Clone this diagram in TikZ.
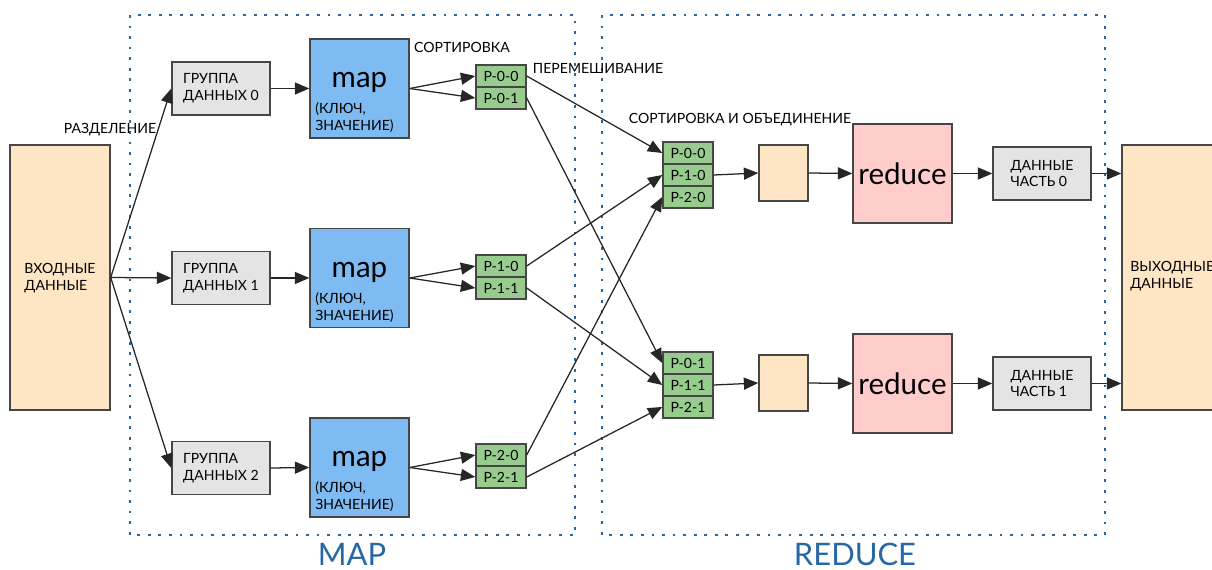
\documentclass[tikz,border=0pt]{standalone}
\usepackage{fontspec}
\setmainfont{Lato}
\usetikzlibrary{arrows.meta}
\definecolor{frameblue}{RGB}{38,104,165}
\definecolor{inorange}{RGB}{254,230,196}
\definecolor{grpgray}{RGB}{228,228,228}
\definecolor{mapblue}{RGB}{125,187,242}
\definecolor{partgreen}{RGB}{152,204,142}
\definecolor{redpink}{RGB}{255,204,204}
\definecolor{edgegray}{RGB}{70,70,70}
\tikzset{
  box/.style={draw=edgegray,line width=1pt,inner sep=0pt},
  grpbox/.style={box,fill=grpgray,minimum width=24.5mm,minimum height=13.25mm,align=left,font=\fontsize{10}{12}\selectfont},
  mapbox/.style={box,fill=mapblue,minimum width=24.75mm,minimum height=24.75mm},
  redbox/.style={box,fill=redpink,minimum width=24.75mm,minimum height=24.75mm},
  partbox/.style={box,fill=partgreen,minimum width=12.5mm,minimum height=5.5mm,font=\fontsize{10}{12}\selectfont},
  bufbox/.style={box,fill=inorange,minimum width=12.25mm,minimum height=14mm},
  bigbox/.style={box,fill=inorange,minimum width=25mm,minimum height=66.25mm},
  lbl/.style={font=\fontsize{10}{12}\selectfont,inner sep=0pt},
  fnlbl/.style={font=\fontsize{21}{23}\selectfont,inner sep=0pt},
  stage/.style={font=\fontsize{22}{24}\selectfont,text=frameblue,inner sep=0pt},
  frame/.style={draw=frameblue,line width=1.5pt,dash pattern=on 2pt off 5.5pt},
  flow/.style={-{Triangle[length=3.6mm,width=3mm]},line width=0.9pt,draw=black!85}
}

\begin{document}
\begin{tikzpicture}[x=0.025cm,y=-0.025cm]
\useasboundingbox (0,0) rectangle (1212,570);
\clip (0,0) rectangle (1212,570);
%
\draw[frame] (130,15) rectangle (575,535);
\draw[frame] (602,15) rectangle (1105,535);
\node[stage] (mapstage) at (352,554) {MAP};
\node[stage] (redstage) at (855,554) {REDUCE};
%
\node[bigbox] (input) at (60,277.5) {};
\node[lbl,align=left] (inputtxt) at (60,278) {ВХОДНЫЕ\\ДАННЫЕ};
%
\node[grpbox] (g0) at (221,88.5) {ГРУППА\\ДАННЫХ 0};
\node[grpbox] (g1) at (221,278) {ГРУППА\\ДАННЫХ 1};
\node[grpbox] (g2) at (221,468) {ГРУППА\\ДАННЫХ 2};
%
\node[mapbox] (m0) at (359.5,88.5) {};
\node[mapbox] (m1) at (359.5,278) {};
\node[mapbox] (m2) at (359.5,467.5) {};
\node[fnlbl] (m0t) at (359.5,82) {map};
\node[fnlbl] (m1t) at (359.5,272) {map};
\node[fnlbl] (m2t) at (359.5,461) {map};
\node[lbl,align=left,anchor=south west] (m0k) at (315,133) {(КЛЮЧ,\\ЗНАЧЕНИЕ)};
\node[lbl,align=left,anchor=south west] (m1k) at (315,323) {(КЛЮЧ,\\ЗНАЧЕНИЕ)};
\node[lbl,align=left,anchor=south west] (m2k) at (315,512) {(КЛЮЧ,\\ЗНАЧЕНИЕ)};
%
\node[partbox] (p00) at (501,76) {P-0-0};
\node[partbox] (p01) at (501,98) {P-0-1};
\node[partbox] (p10) at (501,266) {P-1-0};
\node[partbox] (p11) at (501,288) {P-1-1};
\node[partbox] (p20) at (501,455) {P-2-0};
\node[partbox] (p21) at (501,477) {P-2-1};
%
\node[partbox] (r00) at (688,153) {P-0-0};
\node[partbox] (r10) at (688,175) {P-1-0};
\node[partbox] (r20) at (688,197) {P-2-0};
\node[partbox] (r01) at (688,363) {P-0-1};
\node[partbox] (r11) at (688,385) {P-1-1};
\node[partbox] (r21) at (688,407) {P-2-1};
%
\node[bufbox] (b0) at (783.5,173) {};
\node[bufbox] (b1) at (783.5,383) {};
\node[redbox] (red0) at (902.5,173.5) {};
\node[redbox] (red1) at (902.5,383.5) {};
\node[fnlbl] (red0t) at (902.5,174) {reduce};
\node[fnlbl] (red1t) at (902.5,384) {reduce};
\node[grpbox] (d0) at (1042,173.5) {ДАННЫЕ\\ЧАСТЬ 0};
\node[grpbox] (d1) at (1042,383.5) {ДАННЫЕ\\ЧАСТЬ 1};
%
\node[bigbox] (output) at (1172,277.5) {};
\node[lbl,align=left,anchor=west] (outputtxt) at (1130,276) {ВЫХОДНЫЕ\\ДАННЫЕ};
%
\node[lbl] (split) at (110,130) {РАЗДЕЛЕНИЕ};
\node[lbl] (sort) at (462,47) {СОРТИРОВКА};
\node[lbl] (shuffle) at (598,68) {ПЕРЕМЕШИВАНИЕ};
\node[lbl] (merge) at (740,120) {СОРТИРОВКА И ОБЪЕДИНЕНИЕ};
%
\coordinate (insrc) at (input.east);
\draw[flow] (insrc) -- (g0.west);
\draw[flow] (insrc) -- (g1.west);
\draw[flow] (insrc) -- (g2.west);
%
\foreach \i in {0,1,2}{
  \draw[flow] (g\i.east) -- (m\i.west);
  \draw[flow] (m\i.east) -- (p\i0.west);
  \draw[flow] (m\i.east) -- (p\i1.west);
  \draw[flow] (p\i0.east) -- (r\i0.west);
  \draw[flow] (p\i1.east) -- (r\i1.west);
}
%
\foreach \j in {0,1}{
  \draw[flow] (r1\j.east) -- (b\j.west);
  \draw[flow] (b\j.east) -- (red\j.west);
  \draw[flow] (red\j.east) -- (d\j.west);
  \draw[flow] (d\j.east) -- (d\j.east -| output.west);
}
\end{tikzpicture}
\end{document}
